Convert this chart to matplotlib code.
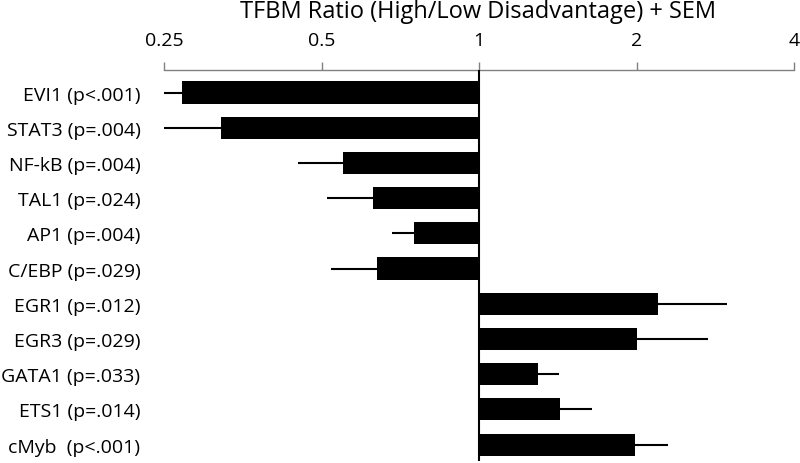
import numpy as np
import matplotlib
matplotlib.use('Agg')
import matplotlib.pyplot as plt

plt.rcParams['font.family'] = ['Open Sans', 'DejaVu Sans']

# 数据: 比值和误差端点
labels = ['EVI1 (p<.001)', 'STAT3 (p=.004)', 'NF-kB (p=.004)', 'TAL1 (p=.024)',
          'AP1 (p=.004)', 'C/EBP (p=.029)', 'EGR1 (p=.012)', 'EGR3 (p=.029)',
          'GATA1 (p=.033)', 'ETS1 (p=.014)', 'cMyb  (p<.001)']
ratio = [0.271, 0.321, 0.550, 0.628, 0.750, 0.639, 2.195, 2.00, 1.295, 1.43, 1.987]
err_end = [0.25, 0.25, 0.451, 0.513, 0.683, 0.521, 2.98, 2.74, 1.424, 1.645, 2.30]
xticks = [0.25, 0.5, 1, 2, 4]
xticklabels = ['0.25', '0.5', '1', '2', '4']
title = 'TFBM Ratio (High/Low Disadvantage) + SEM'

fig = plt.figure(figsize=(8, 4.64), dpi=100)
ax = fig.add_axes([0.205, 0.004, 0.7875, 0.843])

y = np.arange(len(labels))
r = np.array(ratio)
e = np.array(err_end)

# 误差线 (单边)
lo = np.where(r < 1, r - e, 0)
hi = np.where(r > 1, e - r, 0)
ax.errorbar(r, y, xerr=[lo, hi], fmt='none', ecolor='black', elinewidth=1.5,
            capsize=0, zorder=2)
ax.barh(y, r - 1, left=1, height=0.63, color='black', zorder=3)
ax.axvline(1, color='black', lw=1.5, zorder=4)

ax.set_xscale('log', base=2)
ax.set_xlim(0.25, 4)
ax.set_ylim(10.47, -0.64)
ax.xaxis.set_ticks_position('top')
ax.xaxis.set_label_position('top')
ax.set_xticks(xticks)
ax.set_xticklabels(xticklabels)
ax.xaxis.set_minor_locator(plt.NullLocator())
ax.tick_params(axis='x', which='major', length=6, width=1, color='#808080',
               labelsize=14, pad=9, direction='out')
ax.set_yticks(y)
ax.set_yticklabels(labels)
ax.tick_params(axis='y', length=0, labelsize=14, pad=17)

for s in ['left', 'right', 'bottom']:
    ax.spines[s].set_visible(False)
ax.spines['top'].set_color('#808080')
ax.spines['top'].set_linewidth(1)

fig.text(0.597, 0.961, title, ha='center', va='baseline', fontsize=17)

fig.savefig('out.png', dpi=100)
